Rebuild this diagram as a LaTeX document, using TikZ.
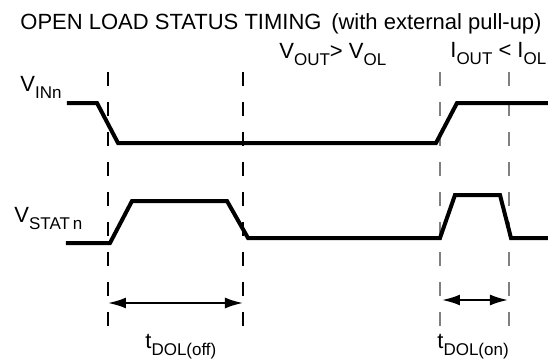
\documentclass[tikz,border=0pt]{standalone}
\usepackage{fontspec}
\setmainfont{Liberation Sans}
\usetikzlibrary{arrows.meta}
\newcommand{\lo}[1]{\raisebox{-3.5pt}{\fontsize{8.5}{9}\selectfont #1}}

\begin{document}
\begin{tikzpicture}[x=0.5pt, y=-0.5pt,
  wave/.style={line width=2pt},
  guide/.style={line width=0.9pt, dash pattern=on 7pt off 8pt},
  guidegray/.style={guide, line width=0.6pt, gray},
  span/.style={line width=1pt, {Latex[length=9pt,width=5.5pt]}-{Latex[length=9pt,width=5.5pt]}},
  lbl/.style={anchor=base west, inner sep=0pt}]

  \fontsize{11}{13}\selectfont
  \useasboundingbox (0,0) rectangle (548,359);

  % title and conditions
  \node[anchor=base, inner sep=0pt] (title) at (281,29) {OPEN LOAD STATUS TIMING\, (with external pull-up)};
  \node[lbl] (vcond) at (279,58) {V\lo{OUT}> V\lo{OL}};
  \node[lbl] (icond) at (450,57) {I\lo{OUT} < I\lo{OL}};

  % signal names
  \node[lbl] (vin) at (20,91) {V\lo{INn}};
  \node[lbl] (vstat) at (14,222) {V\lo{STAT\,n}};

  % dashed time marks
  \foreach \n/\x/\s in {1/108/guide, 2/243/guide, 3/440/guidegray, 4/509/guidegray}{
    \coordinate (g\n) at (\x,72);
    \draw[\s] (g\n) -- (\x,330);
  }

  % input
  \draw[wave] (67,103) -- (97,103) -- (118,143) -- (436,143) -- (457,103) -- (548,103);
  % status
  \draw[wave] (66,243) -- (110,243) -- (132,201) -- (227,201) -- (248,238) -- (440,238)
    -- (455,195) -- (500,195) -- (511,238) -- (548,238);

  % delays
  \coordinate (offA) at (108,303);
  \coordinate (offB) at (243,303);
  \coordinate (onA) at (442,300);
  \coordinate (onB) at (508,300);
  \draw[span] (offA) -- (offB); %% t off
  \draw[span] (onA) -- (onB);   %% t on
  \node[lbl] (toff) at (145,348) {t\lo{DOL(off)}};
  \node[lbl] (ton) at (437,348) {t\lo{DOL(on)}};
\end{tikzpicture}
\end{document}
